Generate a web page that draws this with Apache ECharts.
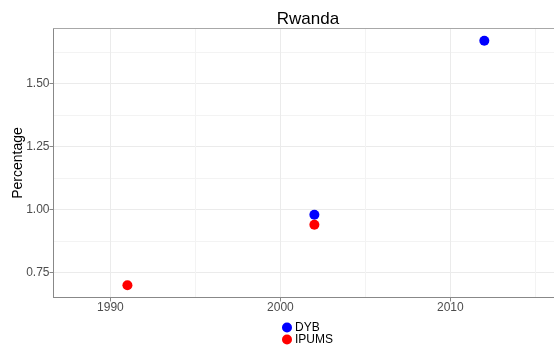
<!DOCTYPE html>
<html>
<head>
<meta charset="utf-8">
<script src="https://cdn.jsdelivr.net/npm/echarts@6/dist/echarts.min.js"></script>
<style>html,body{margin:0;padding:0;background:#fff}#c{width:554px;height:349px}</style>
</head>
<body>
<div id="c"></div>
<script>
const title = "Rwanda";
const yName = "Percentage";
const dybYears = [2002, 2012];
const dybValues = [0.98, 1.67];
const ipumsYears = [1991, 2002];
const ipumsValues = [0.70, 0.94];
const xMajor = [1990, 2000, 2010];
const xMinor = [1995, 2005, 2015];
const yMajor = [0.75, 1.00, 1.25, 1.50];
const yMinor = [0.875, 1.125, 1.375, 1.625];
const xRange = [1986.65, 2016.1];
const yRange = [0.6515, 1.7185];

const font = "Liberation Sans, Arial, sans-serif";
const chart = echarts.init(document.getElementById('c'), null, {renderer: 'canvas'});
const axisGray = '#888888';
const labelGray = '#4D4D4D';
chart.setOption({
  animation: false,
  backgroundColor: '#ffffff',
  title: {text: title, left: 303, textAlign: 'center', top: 6,
    textStyle: {fontFamily: font, fontSize: 17, fontWeight: 'normal', color: '#000'}},
  grid: {left: 53.5, right: 0, top: 28.5, bottom: 51.5, containLabel: false, outerBoundsMode: 'none'},
  legend: {
    orient: 'vertical', left: 282, top: 321.5, height: 28, padding: 0, itemWidth: 10, itemHeight: 10, itemGap: 0,
    icon: 'circle',
    textStyle: {fontFamily: font, fontSize: 12, lineHeight: 11, color: '#000', padding: [0,0,0,-2]},
    data: ['DYB', 'IPUMS']
  },
  xAxis: [
    {type: 'value', min: xRange[0], max: xRange[1], position: 'bottom',
     axisLine: {show: true, lineStyle: {color: axisGray, width: 1}},
     axisTick: {show: true, length: 4, customValues: xMajor, lineStyle: {color: axisGray}},
     axisLabel: {show: true, customValues: xMajor, margin: 4, color: labelGray, fontFamily: font, fontSize: 12,
       formatter: v => String(v)},
     splitLine: {show: true, lineStyle: {color: '#EBEBEB', width: 1}}},
    {type: 'value', min: xRange[0], max: xRange[1], position: 'top',
     axisLine: {show: true, lineStyle: {color: '#A8A8A8', width: 1}},
     axisTick: {show: false, customValues: xMinor},
     axisLabel: {show: false, customValues: xMinor},
     splitLine: {show: true, lineStyle: {color: '#F3F3F3', width: 1}}}
  ],
  yAxis: [
    {type: 'value', min: yRange[0], max: yRange[1], position: 'left',
     name: yName, nameLocation: 'middle', nameGap: 28, nameMoveOverlap: false,
     nameTextStyle: {fontFamily: font, fontSize: 14, color: '#000'},
     axisLine: {show: true, lineStyle: {color: axisGray, width: 1}},
     axisTick: {show: true, length: 4, customValues: yMajor, lineStyle: {color: axisGray}},
     axisLabel: {show: true, customValues: yMajor, margin: 4, color: labelGray, fontFamily: font, fontSize: 12,
       formatter: v => v.toFixed(2)},
     splitLine: {show: true, lineStyle: {color: '#EBEBEB', width: 1}}},
    {type: 'value', min: yRange[0], max: yRange[1], position: 'left',
     axisLine: {show: false}, axisTick: {show: false, customValues: yMinor},
     axisLabel: {show: false, customValues: yMinor},
     splitLine: {show: true, lineStyle: {color: '#F3F3F3', width: 1}}}
  ],
  series: [
    {name: 'DYB', type: 'scatter', xAxisIndex: 0, yAxisIndex: 0, symbolSize: 10,
     itemStyle: {color: '#0000FF', opacity: 1},
     data: dybYears.map((y, i) => [y, dybValues[i]])},
    {name: 'IPUMS', type: 'scatter', xAxisIndex: 0, yAxisIndex: 0, symbolSize: 10,
     itemStyle: {color: '#FF0000', opacity: 1},
     data: ipumsYears.map((y, i) => [y, ipumsValues[i]])}
  ]
});
</script>
</body>
</html>
